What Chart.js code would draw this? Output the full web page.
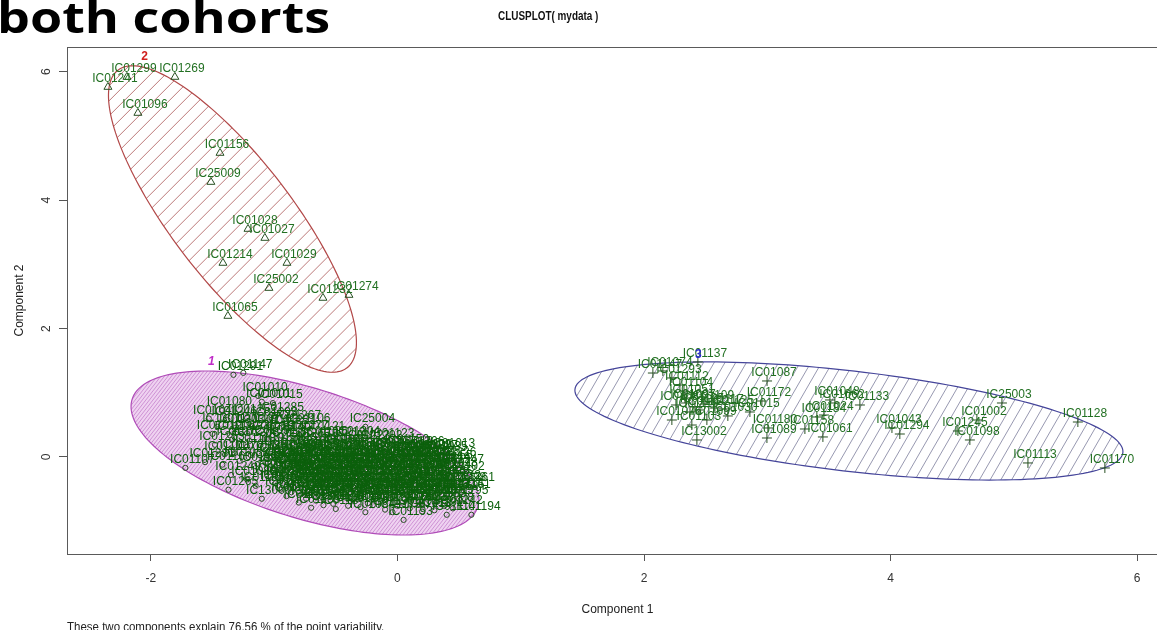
<!DOCTYPE html>
<html><head><meta charset="utf-8">
<script src="https://cdn.jsdelivr.net/npm/chart.js@4.4.0/dist/chart.umd.min.js"></script>
<style>
html,body{margin:0;padding:0;background:#fff;overflow:hidden;width:1157px;height:630px;}
#wrap{position:absolute;left:0;top:0;width:1180px;height:630px;}
.t{position:absolute;white-space:nowrap;transform-origin:0 0;display:inline-block;}
#big{left:-3px;top:-5px;font:bold 43px/43px 'Open Sans',sans-serif;color:#000;}
#ttl{left:498px;top:9px;font:bold 13px/13px 'Liberation Sans',Arial,sans-serif;color:#111;}
#foot{left:67px;top:621px;font:12px/12px 'Liberation Sans',Arial,sans-serif;color:#222;}
</style></head>
<body>
<div id="wrap"><canvas id="c" width="1180" height="630" style="width:1180px;height:630px"></canvas></div>
<div id="big" class="t">both cohorts</div>
<div id="ttl" class="t">CLUSPLOT( mydata )</div>
<div id="foot" class="t">These two components explain 76.56 % of the point variability.</div>
<script>
// ---------- data ----------
const xTicks = [-2, 0, 2, 4, 6];
const yTicks = [0, 2, 4, 6];
const xRange = [-2.68, 6.25];
const yRange = [-1.511, 6.386];

const clusterTags = ['1', '2', '3'];
const tagPos = [[-1.51, 1.48], [-2.05, 6.23], [2.44, 1.59]];

// ellipse per cluster: centre and two conjugate semi-axes (data units)
const ellCenter = [[-0.750, 0.062], [-1.338, 3.707], [3.662, 0.561]];
const ellAxisA  = [[1.402, -0.836], [0.929, -2.318], [2.222, -0.494]];
const ellAxisB  = [[0.156, 0.966], [0.385, 0.570], [0.0467, 0.776]];

// cluster 2 (triangles)
const clus2 = [
 [-2.348,5.763,'IC01241'],[-2.194,5.919,'IC01299'],[-1.805,5.919,'IC01269'],[-2.105,5.358,'IC01096'],
 [-1.439,4.735,'IC01156'],[-1.513,4.283,'IC25009'],[-1.212,3.551,'IC01028'],[-1.075,3.411,'IC01027'],
 [-1.415,3.022,'IC01214'],[-0.896,3.022,'IC01029'],[-1.042,2.632,'IC25002'],[-0.604,2.477,'IC01232'],
 [-0.393,2.523,'IC01274'],[-1.375,2.196,'IC01065']
];

// cluster 3 (plus signs)
const clus3 = [
 [2.437,1.480,'IC01137'],[2.072,1.308,'IC01147'],[2.153,1.340,'IC01074'],[2.226,1.231,'IC01293'],
 [2.998,1.184,'IC01087'],[2.291,1.121,'IC01112'],[2.324,1.028,'IC01104'],[2.332,0.919,'IC01051'],
 [2.259,0.810,'IC01081'],[2.340,0.841,'IC01097'],[2.413,0.779,'IC01105'],[2.494,0.826,'IC01109'],
 [2.575,0.763,'IC01117'],[2.373,0.701,'IC01119'],[2.454,0.732,'IC01122'],[2.656,0.748,'IC01125'],
 [2.956,0.872,'IC01172'],[2.859,0.701,'IC01015'],[2.680,0.639,'IC01030'],[2.226,0.576,'IC01076'],
 [2.510,0.576,'IC01099'],[2.388,0.498,'IC01103'],[2.429,0.265,'IC13002'],[3.508,0.888,'IC01048'],
 [3.548,0.841,'IC01062'],[3.751,0.810,'IC01133'],[3.402,0.623,'IC01184'],[3.459,0.654,'IC01024'],
 [3.005,0.452,'IC01180'],[2.997,0.296,'IC01089'],[3.305,0.436,'IC01158'],[3.451,0.312,'IC01061'],
 [4.011,0.452,'IC01043'],[4.075,0.358,'IC01294'],[4.903,0.841,'IC25003'],[4.700,0.576,'IC01002'],
 [4.546,0.405,'IC01245'],[4.643,0.265,'IC01098'],[5.519,0.545,'IC01128'],[5.114,-0.093,'IC01113'],
 [5.738,-0.171,'IC01170']
];

// cluster 1 (circles)
const clus1 = [
 [-1.33,1.28,'IC01291'],[-1.25,1.31,'IC01147'],[-1.13,0.95,'IC01010'],[-1.10,0.86,'IC01001'],
 [-1.01,0.84,'IC01015'],[-1.42,0.73,'IC01080'],[-1.00,0.64,'IC01285'],
 [-1.53,0.60,'IC01041'],[-1.38,0.58,'IC01246'],[-1.22,0.61,'IC01252'],[-1.05,0.57,'IC01093'],[-0.86,0.52,'IC01267'],
 [-1.46,0.47,'IC13011'],[-1.32,0.45,'IC01303'],[-1.18,0.48,'IC01197'],[-1.04,0.46,'IC01163'],[-0.90,0.44,'IC01221'],[-0.78,0.47,'IC01106'],
 [-0.26,0.47,'IC25004'],
 [-1.50,0.36,'IC01019'],[-1.36,0.34,'IC01182'],[-1.22,0.37,'IC01236'],[-1.08,0.35,'IC01058'],[-0.94,0.33,'IC01140'],[-0.80,0.36,'IC01277'],[-0.66,0.34,'IC01121'],
 [-1.34,0.27,'IC01072'],[-1.20,0.25,'IC01208'],[-1.06,0.28,'IC01031'],[-0.92,0.26,'IC01155'],[-0.78,0.24,'IC01263'],[-0.64,0.27,'IC01086'],
 [-0.50,0.25,'IC01219'],[-0.38,0.27,'IC01304'],[-0.30,0.20,'IC01223'],[-0.20,0.21,'IC01202'],[-0.10,0.24,'IC01123'],
 [-1.48,0.19,'IC01253'],[-1.22,0.16,'IC01118'],[-0.95,0.18,'IC01189'],[-0.68,0.17,'IC01240'],[-0.48,0.15,'IC01044'],[0.02,0.14,'IC01150'],[0.14,0.12,'IC01206'],
 [-1.45,0.04,'IC01111'],[-1.32,0.06,'IC01178'],[-1.19,0.03,'IC01068'],[0.10,0.02,'IC01050'],[0.25,0.05,'IC01227'],[0.39,0.08,'IC01013'],
 [-1.72,-0.17,'IC01107'],[-1.56,-0.08,'IC01281'],[-1.42,-0.12,'IC01160'],[-1.28,-0.06,'IC01032'],[-1.16,-0.14,'IC01199'],
 [-1.35,-0.28,'IC01249'],[-1.22,-0.35,'IC01088'],[-1.15,-0.45,'IC01135'],[-1.37,-0.51,'IC01265'],[-1.10,-0.65,'IC13000'],
 [-0.98,0.12,'IC01003'],[-0.85,0.08,'IC01004'],[-0.71,0.11,'IC01005'],[-0.60,0.06,'IC01006'],[-0.47,0.13,'IC01007'],
 [-0.33,0.09,'IC01008'],[-0.22,0.10,'IC01009'],[-0.08,0.07,'IC01011'],[0.05,0.12,'IC01012'],[0.18,0.05,'IC01014'],
 [-0.92,0.05,'IC01196'],[-0.78,0.04,'IC01198'],[-0.64,0.06,'IC01200'],[-0.50,0.03,'IC01201'],[-0.36,0.05,'IC01203'],
 [-0.22,0.04,'IC01204'],[-0.08,0.06,'IC01205'],[0.06,0.03,'IC01207'],[0.20,0.06,'IC01209'],
 [-1.02,0.01,'IC01016'],[-0.90,-0.03,'IC01017'],[-0.79,0.02,'IC01018'],[-0.66,-0.01,'IC01020'],[-0.55,0.03,'IC01021'],[-0.41,-0.02,'IC01022'],
 [-0.30,0.00,'IC01023'],[-0.17,0.02,'IC01025'],[-0.04,-0.04,'IC01026'],[0.09,0.01,'IC01033'],[0.21,-0.02,'IC01034'],[0.33,0.03,'IC01035'],
 [-0.97,-0.05,'IC01210'],[-0.84,-0.06,'IC01211'],[-0.72,-0.04,'IC01212'],[-0.60,-0.07,'IC01215'],[-0.48,-0.05,'IC01216'],[-0.35,-0.06,'IC01217'],
 [-0.23,-0.04,'IC01218'],[-0.10,-0.07,'IC01220'],[0.03,-0.05,'IC01222'],[0.15,-0.06,'IC01224'],[0.27,-0.04,'IC01225'],[0.40,-0.06,'IC01226'],
 [-1.05,-0.09,'IC01036'],[-0.93,-0.12,'IC01037'],[-0.82,-0.08,'IC01038'],[-0.70,-0.11,'IC01039'],[-0.58,-0.13,'IC01040'],[-0.46,-0.07,'IC01042'],
 [-0.35,-0.10,'IC01045'],[-0.24,-0.12,'IC01046'],[-0.12,-0.09,'IC01047'],[0.00,-0.11,'IC01049'],[0.12,-0.08,'IC01052'],[0.25,-0.13,'IC01054'],[0.37,-0.10,'IC01055'],
 [-0.99,-0.15,'IC01228'],[-0.87,-0.16,'IC01229'],[-0.75,-0.14,'IC01230'],[-0.63,-0.16,'IC01231'],[-0.50,-0.15,'IC01233'],[-0.38,-0.14,'IC01234'],
 [-0.26,-0.16,'IC01235'],[-0.14,-0.15,'IC01237'],[-0.01,-0.14,'IC01238'],[0.11,-0.16,'IC01239'],[0.23,-0.15,'IC01243'],[0.35,-0.14,'IC01244'],[0.46,-0.16,'IC01247'],
 [-1.00,-0.21,'IC01056'],[-0.88,-0.18,'IC01057'],[-0.76,-0.23,'IC01059'],[-0.64,-0.19,'IC01060'],[-0.52,-0.22,'IC01063'],[-0.40,-0.17,'IC01066'],
 [-0.29,-0.21,'IC01069'],[-0.18,-0.24,'IC01070'],[-0.06,-0.19,'IC01071'],[0.06,-0.20,'IC01073'],[0.17,-0.23,'IC01075'],[0.29,-0.18,'IC01077'],[0.41,-0.22,'IC01078'],
 [-0.96,-0.25,'IC01248'],[-0.84,-0.26,'IC01250'],[-0.72,-0.24,'IC01251'],[-0.60,-0.26,'IC01254'],[-0.48,-0.25,'IC01255'],[-0.36,-0.24,'IC01256'],
 [-0.24,-0.26,'IC01257'],[-0.12,-0.25,'IC01258'],[0.00,-0.24,'IC01259'],[0.12,-0.26,'IC01260'],[0.24,-0.25,'IC01262'],[0.36,-0.24,'IC01264'],
 [-1.03,-0.31,'IC01079'],[-0.91,-0.28,'IC01082'],[-0.80,-0.33,'IC01083'],[-0.68,-0.29,'IC01084'],[-0.57,-0.32,'IC01085'],[-0.44,-0.27,'IC01090'],
 [-0.33,-0.31,'IC01091'],[-0.21,-0.34,'IC01092'],[-0.10,-0.28,'IC01094'],[0.02,-0.30,'IC01095'],[0.14,-0.33,'IC01100'],[0.26,-0.29,'IC01101'],[0.47,-0.27,'IC01102'],
 [-0.94,-0.35,'IC01266'],[-0.82,-0.36,'IC01268'],[-0.70,-0.34,'IC01270'],[-0.58,-0.36,'IC01271'],[-0.46,-0.35,'IC01272'],[-0.34,-0.34,'IC01273'],
 [-0.22,-0.36,'IC01275'],[-0.10,-0.35,'IC01276'],[0.02,-0.34,'IC01278'],[0.14,-0.36,'IC01279'],[0.28,-0.35,'IC01280'],[0.40,-0.34,'IC01282'],
 [-0.99,-0.41,'IC01108'],[-0.87,-0.38,'IC01110'],[-0.75,-0.43,'IC01115'],[-0.63,-0.39,'IC01116'],[-0.51,-0.42,'IC01120'],[-0.39,-0.37,'IC01124'],
 [-0.27,-0.41,'IC01126'],[-0.15,-0.44,'IC01127'],[-0.03,-0.38,'IC01129'],[0.09,-0.40,'IC01130'],[0.20,-0.43,'IC01131'],[0.44,-0.42,'IC01132'],
 [-0.90,-0.45,'IC01283'],[-0.78,-0.46,'IC01284'],[-0.66,-0.44,'IC01286'],[-0.54,-0.46,'IC01287'],[-0.42,-0.45,'IC01288'],[-0.30,-0.44,'IC01289'],
 [-0.18,-0.46,'IC01290'],[-0.06,-0.45,'IC01292'],[0.06,-0.44,'IC01295'],[0.18,-0.46,'IC01296'],[0.30,-0.45,'IC01297'],[0.48,-0.44,'IC01298'],
 [-0.95,-0.51,'IC01134'],[-0.84,-0.48,'IC01136'],[-0.72,-0.53,'IC01138'],[-0.60,-0.49,'IC01139'],[-0.48,-0.52,'IC01141'],[-0.36,-0.47,'IC01142'],
 [-0.24,-0.51,'IC01143'],[-0.12,-0.54,'IC01144'],[0.00,-0.48,'IC01145'],[0.12,-0.50,'IC01146'],[0.24,-0.53,'IC01148'],[0.36,-0.49,'IC01149'],
 [-0.86,-0.55,'IC01300'],[-0.74,-0.56,'IC01301'],[-0.62,-0.54,'IC01302'],[-0.50,-0.56,'IC01305'],[-0.38,-0.55,'IC01306'],[-0.26,-0.54,'IC01307'],
 [-0.14,-0.56,'IC01308'],[-0.02,-0.55,'IC01309'],[0.10,-0.54,'IC01310'],[0.22,-0.56,'IC01312'],[0.34,-0.55,'IC01313'],[0.46,-0.54,'IC01314'],
 [-0.90,-0.61,'IC01152'],[-0.78,-0.58,'IC01153'],[-0.66,-0.63,'IC01154'],[-0.54,-0.59,'IC01157'],[-0.42,-0.62,'IC01159'],[-0.30,-0.57,'IC01161'],
 [-0.18,-0.61,'IC01162'],[-0.06,-0.64,'IC01164'],[0.06,-0.58,'IC01165'],[0.18,-0.60,'IC01166'],[0.30,-0.63,'IC01167'],[0.42,-0.59,'IC01168'],
 [-0.74,-0.65,'IC25011'],[-0.60,-0.66,'IC25012'],[-0.46,-0.64,'IC25013'],[-0.32,-0.66,'IC25014'],[-0.18,-0.65,'IC25015'],
 [-0.04,-0.64,'IC25016'],[0.10,-0.66,'IC25017'],[0.24,-0.65,'IC25018'],[0.38,-0.64,'IC25019'],
 [-0.80,-0.71,'IC01169'],[-0.66,-0.68,'IC01171'],[-0.52,-0.73,'IC01173'],[-0.38,-0.69,'IC01174'],[-0.24,-0.72,'IC01175'],[-0.10,-0.67,'IC01176'],
 [0.04,-0.71,'IC01177'],[0.18,-0.74,'IC01181'],[0.32,-0.70,'IC01183'],
 [-0.60,-0.75,'IC13003'],[-0.40,-0.76,'IC13004'],[-0.20,-0.75,'IC13005'],[0.00,-0.76,'IC13006'],[0.20,-0.75,'IC13007'],[0.38,-0.76,'IC13008'],
 [-0.70,-0.79,'IC01185'],[-0.50,-0.81,'IC01187'],[-0.30,-0.78,'IC01188'],[-0.10,-0.82,'IC01190'],[0.10,-0.80,'IC01191'],[0.30,-0.83,'IC01192'],
 [0.34,-0.37,'IC01053'],[0.52,-0.55,'IC01151'],[0.55,-0.45,'IC01261'],[0.50,-0.65,'IC01195'],[0.40,-0.90,'IC01114'],[0.45,-0.80,'IC01242'],
 [-0.04,-0.86,'IC01179'],[-0.26,-0.86,'IC01064'],[0.20,-0.85,'IC01213'],[0.05,-0.98,'IC01193'],[0.60,-0.90,'IC01194']
];

// ---------- styles ----------
const labelColors = ['rgb(12,96,12)', 'rgb(34,112,34)', 'rgb(34,112,34)'];
const markColor = 'rgb(40,80,35)';
const ellStyle = [
  {fill:'#efd2f1', hatch:'#c98ad0', angle:52, gap:2.8, lw:0.9, border:'#b04cb8', bw:1.2},
  {fill:null, hatch:'#b46a6a', angle:45, gap:10.6, lw:0.9, border:'#b24848', bw:1.2},
  {fill:null, hatch:'#7c7e9c', angle:60, gap:9.3, lw:0.8, border:'#45459a', bw:1.2}
];
const tagStyle = [
  {color:'#c02cc8', font:"italic bold 12px 'Liberation Sans', Arial"},
  {color:'#d0201e', font:"bold 12px 'Liberation Sans', Arial"},
  {color:'#2a2acc', font:"bold 12px 'Liberation Sans', Arial"}
];

function tracePath(ctx, xs, ys, k) {
  const c = ellCenter[k], a = ellAxisA[k], b = ellAxisB[k];
  ctx.beginPath();
  for (let i = 0; i <= 180; i++) {
    const t = i / 180 * 2 * Math.PI;
    const px = xs.getPixelForValue(c[0] + a[0] * Math.cos(t) + b[0] * Math.sin(t));
    const py = ys.getPixelForValue(c[1] + a[1] * Math.cos(t) + b[1] * Math.sin(t));
    if (i === 0) ctx.moveTo(px, py); else ctx.lineTo(px, py);
  }
  ctx.closePath();
}
function hatch(ctx, ca, angleDeg, gap, color, lw) {
  const a = angleDeg * Math.PI / 180;
  const dx = Math.cos(a), dy = -Math.sin(a);
  const nx = Math.sin(a), ny = Math.cos(a);
  const cs = [[ca.left, ca.top], [ca.right, ca.top], [ca.left, ca.bottom], [ca.right, ca.bottom]];
  const pr = cs.map(p => p[0] * nx + p[1] * ny);
  const mn = Math.min(...pr), mx = Math.max(...pr);
  ctx.beginPath();
  for (let s = Math.floor(mn / gap) * gap; s <= mx; s += gap) {
    const px = nx * s, py = ny * s;
    ctx.moveTo(px - dx * 3000, py - dy * 3000);
    ctx.lineTo(px + dx * 3000, py + dy * 3000);
  }
  ctx.strokeStyle = color; ctx.lineWidth = lw; ctx.stroke();
}

const ellipsePlugin = {
  id: 'ellipses',
  beforeDatasetsDraw(chart) {
    const {ctx, chartArea: ca, scales: {x, y}} = chart;
    ctx.save();
    ctx.beginPath(); ctx.rect(ca.left, ca.top, ca.right - ca.left, ca.bottom - ca.top); ctx.clip();
    for (let k = 0; k < ellCenter.length; k++) {
      const st = ellStyle[k];
      ctx.save();
      tracePath(ctx, x, y, k);
      ctx.clip();
      if (st.fill) { ctx.fillStyle = st.fill; ctx.fillRect(ca.left, ca.top, ca.right - ca.left, ca.bottom - ca.top); }
      hatch(ctx, ca, st.angle, st.gap, st.hatch, st.lw);
      ctx.restore();
      tracePath(ctx, x, y, k);
      ctx.strokeStyle = st.border; ctx.lineWidth = st.bw; ctx.stroke();
    }
    ctx.restore();
  }
};

const labelPlugin = {
  id: 'labels',
  afterDatasetsDraw(chart) {
    const {ctx, chartArea: ca, scales: {x, y}} = chart;
    ctx.save();
    ctx.beginPath(); ctx.rect(ca.left, ca.top, ca.right - ca.left, ca.bottom - ca.top); ctx.clip();
    ctx.font = "12px 'Liberation Sans', Arial";
    ctx.textAlign = 'center'; ctx.textBaseline = 'middle';
    chart.data.datasets.forEach((ds, i) => {
      ctx.fillStyle = labelColors[i];
      const meta = chart.getDatasetMeta(i);
      meta.data.forEach((pt, j) => { ctx.fillText(ds.data[j].lab, pt.x + 7, pt.y - 8); });
    });
    clusterTags.forEach((t, k) => {
      ctx.font = tagStyle[k].font; ctx.fillStyle = tagStyle[k].color;
      ctx.fillText(t, x.getPixelForValue(tagPos[k][0]), y.getPixelForValue(tagPos[k][1]));
    });
    ctx.restore();
  },
  afterDraw(chart) {
    const {ctx, chartArea: ca, scales: {y}} = chart;
    ctx.save();
    ctx.strokeStyle = '#5a5a5a'; ctx.lineWidth = 1;
    ctx.strokeRect(Math.round(ca.left) + 0.5, Math.round(ca.top) + 0.5, Math.round(ca.right - ca.left), Math.round(ca.bottom - ca.top));
    ctx.font = "12px 'Liberation Sans', Arial"; ctx.fillStyle = '#333';
    ctx.textAlign = 'center'; ctx.textBaseline = 'middle';
    yTicks.forEach(v => {
      const py = y.getPixelForValue(v);
      ctx.save(); ctx.translate(47, py); ctx.rotate(-Math.PI / 2); ctx.fillText(String(v), 0, 0); ctx.restore();
    });
    ctx.restore();
  }
};

const toPts = arr => arr.map(p => ({x: p[0], y: p[1], lab: p[2]}));
Chart.defaults.font.family = "'Liberation Sans', Arial, sans-serif";

new Chart(document.getElementById('c'), {
  type: 'scatter',
  data: {
    datasets: [
      {data: toPts(clus1), pointStyle: 'circle', pointRadius: 2.6, borderColor: markColor, backgroundColor: 'rgba(0,0,0,0)', borderWidth: 1},
      {data: toPts(clus2), pointStyle: 'triangle', pointRadius: 4.6, borderColor: markColor, backgroundColor: 'rgba(0,0,0,0)', borderWidth: 1},
      {data: toPts(clus3), pointStyle: 'cross', pointRadius: 5, borderColor: markColor, backgroundColor: 'rgba(0,0,0,0)', borderWidth: 1}
    ]
  },
  options: {
    responsive: false, animation: false, devicePixelRatio: 1,
    layout: {padding: {top: 47, right: 12, left: 0, bottom: 0}},
    plugins: {legend: {display: false}, tooltip: {enabled: false}, title: {display: false}},
    scales: {
      x: {
        type: 'linear', min: xRange[0], max: xRange[1],
        afterBuildTicks: s => { s.ticks = xTicks.map(v => ({value: v})); },
        afterFit: s => { s.height = 76; },
        grid: {drawOnChartArea: false, drawTicks: true, tickLength: 7, color: '#555'},
        border: {display: false},
        ticks: {color: '#333', font: {size: 12}, padding: 10, maxRotation: 0},
        title: {display: true, text: 'Component 1', color: '#222', font: {size: 12}, padding: {top: 0, bottom: 13}}
      },
      y: {
        type: 'linear', min: yRange[0], max: yRange[1],
        afterBuildTicks: s => { s.ticks = yTicks.map(v => ({value: v})); },
        afterFit: s => { s.width = 67; },
        grid: {drawOnChartArea: false, drawTicks: true, tickLength: 8, color: '#555'},
        border: {display: false},
        ticks: {color: 'rgba(0,0,0,0)', font: {size: 12}},
        title: {display: true, text: 'Component 2', color: '#222', font: {size: 12}, padding: {top: 12, bottom: 0}}
      }
    }
  },
  plugins: [ellipsePlugin, labelPlugin]
});

function fit(id, target) {
  const el = document.getElementById(id);
  const w = el.offsetWidth;
  if (w > 0) el.style.transform = 'scaleX(' + (target / w) + ')';
}
function fitAll() { fit('big', 333); fit('ttl', 100); fit('foot', 317); }
fitAll();
if (document.fonts && document.fonts.ready) document.fonts.ready.then(fitAll);
</script>
</body></html>
